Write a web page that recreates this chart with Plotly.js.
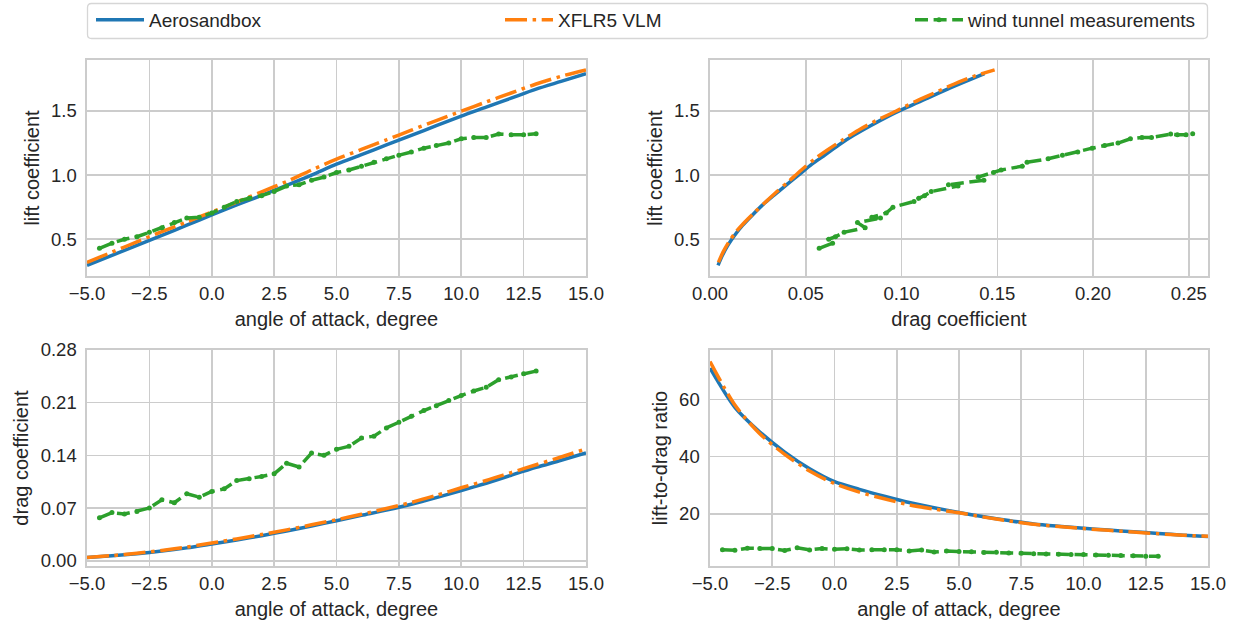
<!DOCTYPE html>
<html>
<head>
<meta charset="utf-8">
<script src="https://cdn.plot.ly/plotly-3.0.1.min.js"></script>
<style>html,body{margin:0;padding:0;background:#fff;}#chart{width:1237px;height:626px;}</style>
</head>
<body>
<div id="chart"></div>
<script>
// ---- data ----
const alpha = [-5,-4,-3,-2,-1,0,1,2,3,4,5,6,7,8,9,10,11,12,13,14,15];
const asbCL = [0.297,0.375,0.452,0.530,0.610,0.690,0.768,0.842,0.920,1.000,1.085,1.160,1.235,1.310,1.385,1.460,1.530,1.600,1.670,1.730,1.790];
const asbCD = [0.0042,0.0065,0.0093,0.0128,0.0171,0.0222,0.0275,0.0333,0.0396,0.0462,0.0532,0.0603,0.0672,0.0750,0.0838,0.0932,0.1030,0.1136,0.1240,0.1335,0.1433];
const asbLD = [70.9,57.2,48.6,41.6,35.8,31.3,28.6,26.2,24.0,22.2,20.5,19.0,17.7,16.5,15.7,15.0,14.4,13.8,13.2,12.6,12.1];
const xflCL = [0.320,0.400,0.480,0.560,0.635,0.713,0.790,0.870,0.950,1.040,1.124,1.200,1.275,1.350,1.425,1.498,1.570,1.640,1.710,1.770,1.820];
const xflCD = [0.0044,0.0068,0.0099,0.0137,0.0182,0.0235,0.0290,0.0348,0.0410,0.0477,0.0545,0.0617,0.0694,0.0775,0.0868,0.0970,0.1066,0.1171,0.1275,0.1378,0.1486];
const xflLD = [73.2,58.0,48.0,40.8,35.0,30.6,27.6,25.3,23.2,21.7,20.4,18.9,17.6,16.4,15.6,14.9,14.3,13.7,13.1,12.6,12.2];
const alphaWT = [-4.5,-4,-3.5,-3,-2.5,-2,-1.5,-1,-0.5,0,0.5,1,1.5,2,2.5,3,3.5,4,4.5,5,5.5,6,6.5,7,7.5,8,8.5,9,9.5,10,10.5,11,11.5,12,12.5,13];
const wtCL = [0.43,0.47,0.50,0.52,0.555,0.59,0.63,0.665,0.672,0.705,0.75,0.795,0.82,0.84,0.872,0.915,0.925,0.96,0.985,1.02,1.04,1.07,1.10,1.127,1.155,1.18,1.21,1.23,1.25,1.283,1.293,1.293,1.32,1.314,1.314,1.322];
const wtCD = [0.057,0.064,0.062,0.0655,0.070,0.081,0.077,0.089,0.0845,0.092,0.0955,0.1065,0.109,0.112,0.1155,0.1295,0.1245,0.143,0.140,0.148,0.152,0.163,0.1655,0.1765,0.184,0.192,0.1995,0.206,0.213,0.2195,0.2255,0.2305,0.2405,0.244,0.2485,0.252];
const wtLD = [7.54,7.34,8.06,7.94,7.93,7.28,8.18,7.47,7.95,7.66,7.85,7.46,7.52,7.50,7.55,7.07,7.43,6.71,7.04,6.89,6.84,6.56,6.65,6.39,6.28,6.15,6.07,5.97,5.87,5.85,5.73,5.61,5.49,5.39,5.29,5.25];
const seriesNames = ["Aerosandbox","XFLR5 VLM","wind tunnel measurements"];
const xTicksAlpha = [-5,-2.5,0,2.5,5,7.5,10,12.5,15];
const yTicksCL = [0.5,1.0,1.5];
const xTicksCD = [0,0.05,0.10,0.15,0.20,0.25];
const yTicksCD = [0,0.07,0.14,0.21,0.28];
const yTicksLD = [20,40,60];

// ---- styles ----
const C = {blue:'#1f77b4', orange:'#ff7f0e', green:'#2ca02c'};
const LW = 3.5;
const lineAsb = {color:C.blue, width:LW, shape:'spline', smoothing:0.8};
const lineXfl = {color:C.orange, width:LW, dash:'22px,5.6px,3.5px,5.6px', shape:'spline', smoothing:0.8};
const lineWT = {color:C.green, width:LW, dash:'13px,5.6px'};
const mkWT = {color:C.green, size:5};

const panels = [
  {xa:'x', ya:'y', xs:[alpha,alpha,alphaWT], ys:[asbCL,xflCL,wtCL]},
  {xa:'x2', ya:'y2', xs:[asbCD,xflCD,wtCD], ys:[asbCL,xflCL,wtCL]},
  {xa:'x3', ya:'y3', xs:[alpha,alpha,alphaWT], ys:[asbCD,xflCD,wtCD]},
  {xa:'x4', ya:'y4', xs:[alpha,alpha,alphaWT], ys:[asbLD,xflLD,wtLD]}
];
const legendIds = ['legend','legend2','legend3'];
const traces = [];
panels.forEach((p, pi) => {
  for (let s = 0; s < 3; s++) {
    const t = {
      x: p.xs[s], y: p.ys[s], xaxis: p.xa, yaxis: p.ya,
      name: seriesNames[s], type: 'scatter',
      mode: s === 2 ? 'lines+markers' : 'lines',
      line: [lineAsb, lineXfl, lineWT][s],
      showlegend: pi === 0, legend: legendIds[s], hoverinfo: 'skip'
    };
    if (s === 2) t.marker = mkWT;
    traces.push(t);
  }
});

const W = 1237, H = 626;
const xL = [87/W, 586/W], xR = [710/W, 1208/W];
const yT = [1-276/H, 1-60/H], yB = [1-566/H, 1-350/H];
const fontC = '#262626';
const base = {
  showline:true, mirror:true, linecolor:'#cccccc', linewidth:1.6,
  showgrid:true, gridcolor:'#cccccc', gridwidth:1.6, zeroline:false,
  ticks:'', automargin:false, tickfont:{size:18.5, color:fontC}, fixedrange:true
};
function ax(o){ return Object.assign({}, base, o); }
const titleFont = {size:20, color:fontC};
const legFont = {size:19, color:fontC};
const xt = (t) => ({text:t, font:titleFont, standoff:9});
const yt = (t) => ({text:t, font:titleFont, standoff:6});

const layout = {
  width:W, height:H, margin:{l:0,r:0,t:0,b:0,autoexpand:false},
  paper_bgcolor:'#ffffff', plot_bgcolor:'#ffffff',
  font:{family:'"Liberation Sans", Arial, sans-serif', color:fontC},
  xaxis: ax({domain:xL, anchor:'y', range:[-5,15], tickvals:xTicksAlpha, tickformat:'.1f', title:xt('angle of attack, degree')}),
  yaxis: ax({domain:yT, anchor:'x', range:[0.214,1.897], tickvals:yTicksCL, tickformat:'.1f', ticklabelstandoff:5, title:yt('lift coefficient')}),
  xaxis2: ax({domain:xR, anchor:'y2', range:[0,0.26], tickvals:xTicksCD, tickformat:'.2f', title:xt('drag coefficient')}),
  yaxis2: ax({domain:yT, anchor:'x2', range:[0.214,1.897], tickvals:yTicksCL, tickformat:'.1f', ticklabelstandoff:5, title:yt('lift coefficient')}),
  xaxis3: ax({domain:xL, anchor:'y3', range:[-5,15], tickvals:xTicksAlpha, tickformat:'.1f', title:xt('angle of attack, degree')}),
  yaxis3: ax({domain:yB, anchor:'x3', range:[-0.007,0.28], tickvals:yTicksCD, tickformat:'.2f', ticklabelstandoff:5, title:yt('drag coefficient')}),
  xaxis4: ax({domain:xR, anchor:'y4', range:[-5,15], tickvals:xTicksAlpha, tickformat:'.1f', title:xt('angle of attack, degree')}),
  yaxis4: ax({domain:yB, anchor:'x4', range:[1.85,77.2], tickvals:yTicksLD, tickformat:'d', ticklabelstandoff:5, title:yt('lift-to-drag ratio')}),
  legend:  {x:91/W,  xanchor:'left', y:1-1/H, yanchor:'top', orientation:'h', itemwidth:48, bgcolor:'rgba(0,0,0,0)', font:legFont},
  legend2: {x:500/W, xanchor:'left', y:1-1/H, yanchor:'top', orientation:'h', itemwidth:48, bgcolor:'rgba(0,0,0,0)', font:legFont},
  legend3: {x:910/W, xanchor:'left', y:1-1/H, yanchor:'top', orientation:'h', itemwidth:48, bgcolor:'rgba(0,0,0,0)', font:legFont},
  shapes: [(function(){
    const x0=87.5/W, x1=1207.5/W, y0=1-3.5/H, y1=1-38.5/H, rx=4/W, ry=4/H;
    return {type:'path', xref:'paper', yref:'paper', layer:'below',
      path:`M${x0+rx},${y0} L${x1-rx},${y0} Q${x1},${y0} ${x1},${y0-ry} L${x1},${y1+ry} Q${x1},${y1} ${x1-rx},${y1} L${x0+rx},${y1} Q${x0},${y1} ${x0},${y1+ry} L${x0},${y0-ry} Q${x0},${y0} ${x0+rx},${y0} Z`,
      line:{color:'#d6d6d6', width:1.3}, fillcolor:'rgba(255,255,255,0.8)'};
  })()]
};

Plotly.newPlot('chart', traces, layout, {staticPlot:true, displayModeBar:false});
</script>
</body>
</html>
